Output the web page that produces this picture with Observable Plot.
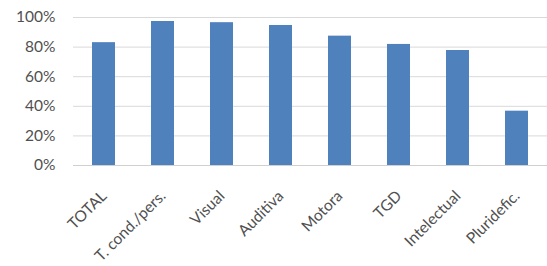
<!DOCTYPE html>
<html>
<head>
<meta charset="utf-8">
<script src="https://cdn.jsdelivr.net/npm/d3@7"></script>
<script src="https://cdn.jsdelivr.net/npm/@observablehq/plot@0.6"></script>
<style>
  html, body { margin: 0; padding: 0; background: #fff; }
  svg { display: block; }
</style>
</head>
<body>
<div id="chart"></div>
<script>
const categories = ["TOTAL", "T. cond./pers.", "Visual", "Auditiva", "Motora", "TGD", "Intelectual", "Pluridefic."];
const values = [0.83, 0.973, 0.965, 0.946, 0.874, 0.818, 0.777, 0.367];
const yTicks = [0, 0.2, 0.4, 0.6, 0.8, 1.0];

const data = categories.map((c, i) => ({ category: c, value: values[i] }));

const chart = Plot.plot({
  width: 547,
  height: 266,
  marginLeft: 73,
  marginRight: 0,
  marginTop: 17,
  marginBottom: 101,
  style: { fontFamily: "Lato, 'Open Sans', sans-serif", fontSize: "13px", color: "#505050", background: "#fff" },
  x: { domain: categories, paddingInner: 0.61, paddingOuter: 0.305, label: null },
  y: { domain: [0, 1], label: null },
  marks: [
    Plot.gridY(yTicks, { stroke: "#d9d9d9", strokeOpacity: 1, strokeWidth: 1 }),
    Plot.ruleY([0], { stroke: "#d0d0d0", strokeWidth: 1 }),
    Plot.barY(data, { x: "category", y: "value", fill: "#4f81bd" }),
    Plot.axisY(yTicks, { tickSize: 0, tickPadding: 18, tickFormat: d => Math.round(d * 100) + "%", fontSize: 15.5, label: null }),
    Plot.axisX({ tickSize: 0, tickRotate: -45, tickPadding: 28, dx: 0, fontSize: 15.5, label: null })
  ]
});
document.getElementById("chart").appendChild(chart);
</script>
</body>
</html>
